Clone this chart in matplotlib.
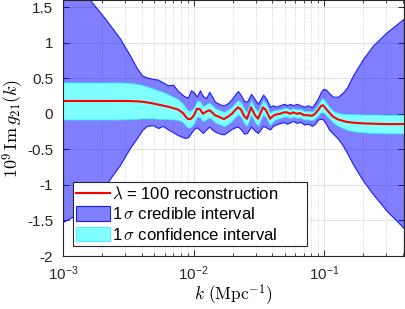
import numpy as np
import matplotlib
matplotlib.use("Agg")
import matplotlib.pyplot as plt
from matplotlib.ticker import FixedLocator, FixedFormatter, LogLocator, NullFormatter

# wavenumber k (Mpc^-1)
k = [1.00e-3, 1.24e-3, 1.61e-3, 2.10e-3, 2.73e-3, 3.26e-3, 3.69e-3, 4.03e-3, 4.40e-3, 4.89e-3,
     5.35e-3, 5.84e-3, 6.38e-3, 6.97e-3, 7.61e-3, 8.31e-3, 8.61e-3, 9.08e-3, 9.57e-3, 1.01e-2,
     1.06e-2, 1.12e-2, 1.18e-2, 1.25e-2, 1.32e-2, 1.39e-2, 1.46e-2, 1.60e-2, 1.71e-2, 1.84e-2,
     1.97e-2, 2.08e-2, 2.19e-2, 2.31e-2, 2.44e-2, 2.57e-2, 2.76e-2, 2.96e-2, 3.12e-2, 3.41e-2,
     3.59e-2, 3.86e-2, 4.07e-2, 4.29e-2, 4.60e-2, 4.94e-2, 5.21e-2, 5.49e-2, 5.79e-2, 6.21e-2,
     6.55e-2, 7.03e-2, 7.54e-2, 8.09e-2, 8.53e-2, 9.00e-2, 9.48e-2, 9.82e-2, 0.1036, 0.1092,
     0.1172, 0.1280, 0.1398, 0.1501, 0.1668, 0.1990, 0.2374, 0.3040, 0.4102]

# lambda = 100 reconstruction
recon = [0.18, 0.18, 0.18, 0.18, 0.18, 0.179, 0.175, 0.17, 0.16, 0.145,
         0.13, 0.115, 0.10, 0.08, 0.06, 0.01, -0.03, -0.075, -0.07, -0.02,
         0.07, 0.065, 0.0, 0.03, 0.05, 0.02, -0.02, -0.05, -0.075, -0.04,
         0.0, 0.05, 0.09, 0.06, -0.03, -0.07, 0.09, -0.02, -0.07, 0.09,
         0.05, -0.07, -0.03, -0.01, 0.0, 0.02, 0.02, 0.0, 0.02, 0.0,
         0.01, -0.02, -0.02, -0.03, 0.0, 0.05, 0.11, 0.12, 0.07, 0.02,
         -0.04, -0.08, -0.10, -0.115, -0.125, -0.135, -0.14, -0.145, -0.145]

# 1 sigma credible interval
cred_hi = [1.88, 1.79, 1.60, 1.34, 1.06, 0.82, 0.64, 0.54, 0.51, 0.49,
           0.48, 0.44, 0.40, 0.41, 0.32, 0.26, 0.24, 0.23, 0.33, 0.30,
           0.24, 0.33, 0.25, 0.22, 0.31, 0.24, 0.17, 0.13, 0.12, 0.15,
           0.21, 0.27, 0.32, 0.26, 0.18, 0.17, 0.28, 0.20, 0.14, 0.27,
           0.22, 0.10, 0.12, 0.10, 0.12, 0.14, 0.12, 0.14, 0.12, 0.14,
           0.12, 0.10, 0.12, 0.09, 0.15, 0.22, 0.31, 0.35, 0.34, 0.29,
           0.24, 0.24, 0.30, 0.37, 0.54, 0.77, 0.96, 1.15, 1.34]
cred_lo = [-1.52, -1.43, -1.25, -1.01, -0.72, -0.48, -0.34, -0.23, -0.17, -0.16,
           -0.20, -0.17, -0.22, -0.26, -0.30, -0.33, -0.34, -0.33, -0.27, -0.21,
           -0.19, -0.23, -0.27, -0.22, -0.18, -0.22, -0.25, -0.28, -0.29, -0.25,
           -0.21, -0.19, -0.18, -0.22, -0.28, -0.27, -0.18, -0.24, -0.27, -0.17,
           -0.19, -0.22, -0.17, -0.15, -0.13, -0.12, -0.14, -0.12, -0.10, -0.13,
           -0.11, -0.15, -0.14, -0.17, -0.14, -0.08, -0.07, -0.08, -0.14, -0.22,
           -0.28, -0.35, -0.45, -0.55, -0.71, -0.94, -1.13, -1.37, -1.61]

# 1 sigma confidence interval (half width around the reconstruction)
conf_hw = [0.26, 0.26, 0.26, 0.26, 0.26, 0.255, 0.245, 0.235, 0.225, 0.21,
           0.20, 0.19, 0.175, 0.16, 0.145, 0.13, 0.125, 0.12, 0.115, 0.11,
           0.11, 0.11, 0.105, 0.105, 0.105, 0.10, 0.10, 0.10, 0.10, 0.10,
           0.10, 0.10, 0.10, 0.10, 0.10, 0.10, 0.10, 0.10, 0.10, 0.10,
           0.095, 0.085, 0.075, 0.065, 0.06, 0.06, 0.06, 0.06, 0.06, 0.06,
           0.06, 0.06, 0.06, 0.06, 0.065, 0.075, 0.09, 0.10, 0.09, 0.08,
           0.08, 0.09, 0.10, 0.11, 0.12, 0.125, 0.13, 0.13, 0.13]

xticks = [1e-3, 1e-2, 1e-1]
xticklabels = [r"$\mathregular{10^{-3}}$", r"$\mathregular{10^{-2}}$", r"$\mathregular{10^{-1}}$"]
yticks = [-2, -1.5, -1, -0.5, 0, 0.5, 1, 1.5]
yticklabels = ["-2", "-1.5", "-1", "-0.5", "0", "0.5", "1", "1.5"]

plt.rcParams["font.family"] = ["Liberation Sans", "DejaVu Sans"]
plt.rcParams["mathtext.fontset"] = "cm"

k = np.array(k)
recon = np.array(recon)
conf_hw = np.array(conf_hw)

fig = plt.figure(figsize=(4.05, 3.09), dpi=100)
ax = fig.add_axes([63 / 405, 53 / 309, 341 / 405, 256 / 309])
ax.set_axisbelow(True)

ax.fill_between(k, cred_lo, cred_hi, facecolor=(0, 0, 1, 0.5), edgecolor=(0.1, 0.1, 1.0),
                linewidth=0.8, label=r"1$\,\sigma$ credible interval")
ax.fill_between(k, recon - conf_hw, recon + conf_hw, facecolor="#80ffff", edgecolor="#30f0ff",
                linewidth=0.6, label=r"1$\,\sigma$ confidence interval")
ax.plot(k, recon, color="red", linewidth=1.5, label=r"$\lambda$ = 100 reconstruction")

ax.set_xscale("log")
ax.set_xlim(1e-3, 0.41)
ax.set_ylim(-2, 1.6)
ax.xaxis.set_major_locator(FixedLocator(xticks))
ax.xaxis.set_major_formatter(FixedFormatter(xticklabels))
ax.xaxis.set_minor_locator(LogLocator(base=10, subs=np.arange(2, 10)))
ax.xaxis.set_minor_formatter(NullFormatter())
ax.set_yticks(yticks)
ax.set_yticklabels(yticklabels)

ax.grid(True, which="major", color="#e2e2e2", linewidth=0.8)
ax.grid(True, which="minor", axis="x", color="#c8c8c8", linestyle=":", linewidth=0.6)

for s in ax.spines.values():
    s.set_color("#262626")
    s.set_linewidth(0.8)
ax.tick_params(which="both", direction="in", top=True, right=True, colors="#262626",
               labelsize=11)
ax.tick_params(which="major", length=4, width=0.7)
ax.tick_params(which="minor", length=2.5, width=0.6)
ax.tick_params(axis="y", pad=7)
ax.tick_params(axis="x", pad=6)

ax.set_xlabel(r"$k\ (\mathrm{Mpc}^{-1})$", fontsize=12.5, labelpad=-1)
ax.set_ylabel(r"$10^9\,\mathrm{Im}\,g_{21}(k)$", fontsize=13, labelpad=1)

handles, labels = ax.get_legend_handles_labels()
order = [2, 0, 1]
leg = ax.legend([handles[i] for i in order], [labels[i] for i in order],
                loc="lower left", bbox_to_anchor=(0.029, 0.039, 0.686, 0.246),
                mode="expand", borderaxespad=0, fontsize=12, fancybox=False,
                framealpha=1, edgecolor="#262626", handlelength=2.0,
                handleheight=0.95, handletextpad=0.15, labelspacing=0.26,
                borderpad=0.2)
leg.get_frame().set_linewidth(0.8)

fig.savefig("out.png", dpi=100)
